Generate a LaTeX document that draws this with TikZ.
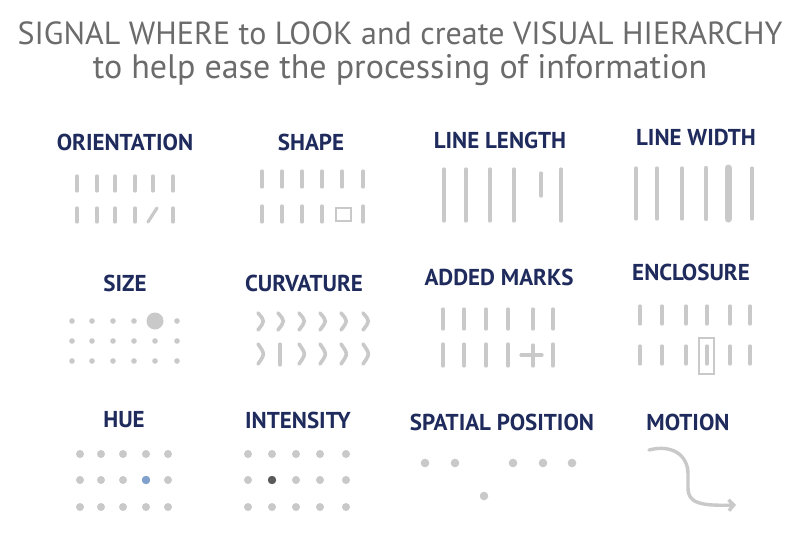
\documentclass[tikz,border=0pt]{standalone}
\usepackage{fontspec}
\setmainfont{PT Sans}
\usepackage{xcolor}
\usepackage{tikz}
\usetikzlibrary{positioning,arrows.meta}
\definecolor{titlegray}{HTML}{6b6b6b}
\definecolor{headnavy}{HTML}{1f2b5c}
\definecolor{markgray}{HTML}{c9c9c9}
\definecolor{huefill}{HTML}{7f9fcc}
\definecolor{darkdot}{HTML}{5a5a5a}
\tikzset{
  titletext/.style={text=titlegray, inner sep=0pt},
  heading/.style={text=headnavy, font=\fontsize{23}{25}\selectfont\bfseries, inner sep=0pt},
  tick/.style={draw=markgray, line width=3.2pt, line cap=round},
  dotmark/.style={fill=markgray, draw=none},
  enclbox/.style={draw=markgray, line width=1.6pt}
}

\begin{document}
\begin{tikzpicture}[x=1pt, y=-1pt]
  \useasboundingbox[fill=white] (0,0) rectangle (799,543);

  % --- title ---
  \node[titletext, font=\fontsize{32}{35}\selectfont] (title1) at (400,33)
    {SIGNAL WHERE to LOOK and create VISUAL HIERARCHY};
  \node[titletext, font=\fontsize{34}{37}\selectfont] (title2) at (400,70)
    {to help ease the processing of information};

  % --- headings ---
  \node[heading] (h-orient) at (125,142) {ORIENTATION};
  \node[heading] (h-shape)  at (311,142) {SHAPE};
  \node[heading] (h-len)    at (500,140) {LINE LENGTH};
  \node[heading] (h-width)  at (696,137) {LINE WIDTH};
  \node[heading] (h-size)   at (125,283) {SIZE};
  \node[heading] (h-curv)   at (304,283) {CURVATURE};
  \node[heading] (h-marks)  at (499,277) {ADDED MARKS};
  \node[heading] (h-encl)   at (691,272) {ENCLOSURE};
  \node[heading] (h-hue)    at (124,420) {HUE};
  \node[heading] (h-int)    at (298,420) {INTENSITY};
  \node[heading] (h-spat)   at (502,422) {SPATIAL POSITION};
  \node[heading] (h-motion) at (688,422) {MOTION};

  % --- orientation ---
  \foreach \x in {77,97,115,135,153,173}
    \draw[tick] (\x,176) -- (\x,191);
  \foreach \x in {77,97,115,135,173}
    \draw[tick] (\x,208) -- (\x,222);
  \draw[tick] (148,222) -- (157,208);

  % --- shape ---
  \foreach \x in {262,282,302,322,342,363}
    \draw[tick] (\x,171) -- (\x,187);
  \foreach \x in {262,282,302,322,363}
    \draw[tick] (\x,206) -- (\x,222);
  \draw[enclbox, line width=1.3pt] (336,208) rectangle (351,221);

  % --- line length ---
  \foreach \x in {444,466,490,514,561}
    \draw[tick] (\x,169) -- (\x,221);
  \draw[tick] (541,173) -- (541,196);

  % --- line width ---
  \foreach \x/\w in {636/3.2,657/3.2,682/3.2,706/4.2,752/3.2}
    \draw[tick, line width=\w pt] (\x,168) -- (\x,219);
  \draw[tick, line width=7pt] (728,168) -- (728,219);

  % --- size ---
  \foreach \y in {321,341,361}
    \foreach \x in {72,92,113,134,155,177}
      \fill[dotmark] (\x,\y) circle (2.8);
  \fill[dotmark] (155,321) circle (8.5);

  % --- curvature ---
  \foreach \x in {260,280,301,322,343,365}
    \draw[tick, line width=3.6pt] (\x-2,313) .. controls (\x+5,321) .. (\x-2,330);
  \foreach \x in {260,301,322,343,365}
    \draw[tick, line width=3.6pt] (\x-2,344) .. controls (\x+5,354) .. (\x-2,364);
  \draw[tick] (280,344) -- (280,365);

  % --- added marks ---
  \foreach \x in {443,464,486,508,533,553}
    \draw[tick] (\x,309) -- (\x,329);
  \foreach \x in {443,464,486,508,553}
    \draw[tick] (\x,344) -- (\x,366);
  \draw[tick] (533,345) -- (533,366);
  \draw[tick] (521,355) -- (542,355);

  % --- enclosure ---
  \foreach \x in {640,662,686,707,730,750}
    \draw[tick] (\x,306) -- (\x,324);
  \foreach \x in {640,662,686,707,730,750}
    \draw[tick] (\x,346) -- (\x,364);
  \draw[enclbox] (699,338) rectangle (714,374);

  % --- hue ---
  \foreach \y in {454,480,507}
    \foreach \x in {80,101,123,146,168}
      \fill[dotmark] (\x,\y) circle (4);
  \fill[huefill] (146,480) circle (4.2);

  % --- intensity ---
  \foreach \y in {454,480,507}
    \foreach \x in {248,272,296,320,346}
      \fill[dotmark] (\x,\y) circle (4);
  \fill[darkdot] (272,480) circle (4.2);

  % --- spatial position ---
  \foreach \x in {425,455,513,543,572}
    \fill[dotmark] (\x,463) circle (4.3);
  \fill[dotmark] (484,496) circle (4.3);

  % --- motion ---
  \draw[tick, line width=3.4pt, -{Straight Barb[length=5pt,width=11pt]}]
    (649,450) .. controls (672,444) and (688,455) .. (688,474)
    -- (688,488) .. controls (688,503) and (700,506) .. (736,505);

\end{tikzpicture}
\end{document}
